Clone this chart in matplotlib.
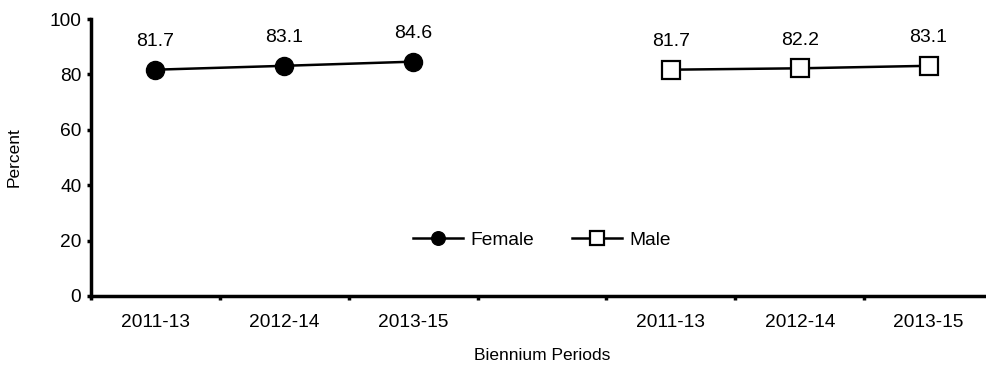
import matplotlib.pyplot as plt

plt.rcParams['font.family'] = ['Liberation Sans', 'DejaVu Sans']

periods = ['2011-13', '2012-14', '2013-15']
female = [81.7, 83.1, 84.6]
male = [81.7, 82.2, 83.1]
female_x = [0, 1, 2]
male_x = [4, 5, 6]

fig = plt.figure(figsize=(9.86, 3.68), dpi=100)
# axes run slightly past the right edge of the figure, as in the original
ax = fig.add_axes([91 / 986, 72 / 368, 902 / 986, 277 / 368])

ax.plot(female_x, female, color='black', lw=1.8, marker='o', ms=13,
        mfc='black', mec='black', label='Female')
ax.plot(male_x, male, color='black', lw=1.8, marker='s', ms=12.5,
        mfc='white', mec='black', mew=1.6, label='Male')

for x, v in zip(female_x + male_x, female + male):
    ax.annotate(f'{v:.1f}', (x, v), xytext=(0, 14), textcoords='offset points',
                ha='center', va='bottom', fontsize=14)

ax.set_xlim(-0.5, 6.5)
ax.set_ylim(0, 100)
ax.set_yticks(range(0, 101, 20))
ax.set_xticks([-0.5, 0.5, 1.5, 2.5, 3.5, 4.5, 5.5])
ax.set_xticklabels([])
ax.set_xticks(female_x + male_x, minor=True)
ax.set_xticklabels(periods + periods, minor=True)
ax.tick_params(axis='x', which='major', length=3, width=2.5, direction='out')
ax.tick_params(axis='x', which='minor', length=0, pad=13, labelsize=13.8)
ax.tick_params(axis='y', length=3, width=2.5, labelsize=13.8, pad=4)

for s in ['top', 'right']:
    ax.spines[s].set_visible(False)
for s in ['left', 'bottom']:
    ax.spines[s].set_linewidth(2.5)

ax.set_ylabel('Percent', fontsize=12.5)
ax.yaxis.set_label_coords(-69 / 902, 0.5)
ax.set_xlabel('Biennium Periods', fontsize=12.5)
ax.xaxis.set_label_coords(451 / 902, -60 / 277)
ax.xaxis.label.set_va('center')

ax.legend(loc='center', bbox_to_anchor=(451 / 902, 56 / 277), ncol=2,
          frameon=False, fontsize=13.8, handlelength=2.6, markerscale=0.75,
          columnspacing=2.0, handletextpad=0.4)

fig.savefig('out.png', dpi=100)
